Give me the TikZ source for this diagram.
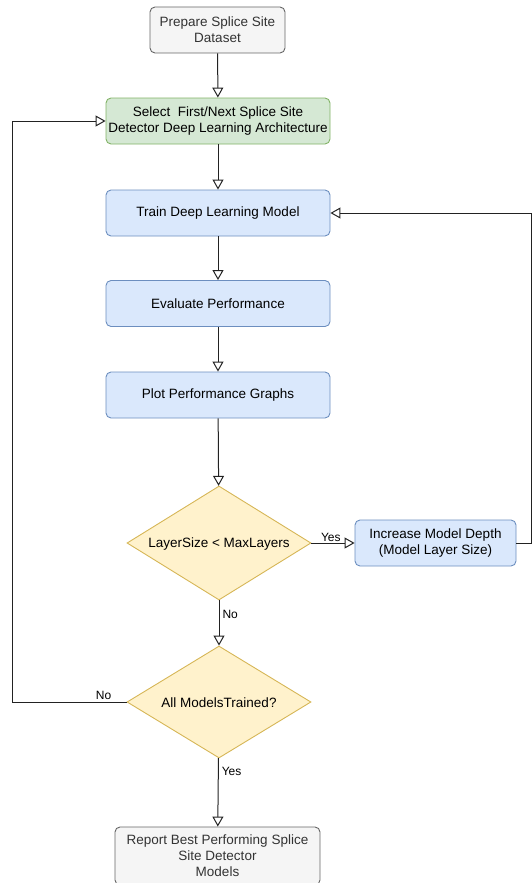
\documentclass[tikz,border=0pt]{standalone}
\usepackage{fontspec}
\setmainfont{Liberation Sans}
\usetikzlibrary{shapes.geometric,arrows.meta}
\definecolor{grayfill}{HTML}{F5F5F5}
\definecolor{graydraw}{HTML}{666666}
\definecolor{greenfill}{HTML}{D5E8D4}
\definecolor{greendraw}{HTML}{82B366}
\definecolor{bluefill}{HTML}{DAE8FC}
\definecolor{bluedraw}{HTML}{6C8EBF}
\definecolor{yelfill}{HTML}{FFF2CC}
\definecolor{yeldraw}{HTML}{D6B656}
\definecolor{linec}{HTML}{222222}
\begin{document}
\begin{tikzpicture}[x=1pt,y=-1pt,
  box/.style={rectangle,rounded corners=5pt,draw,line width=0.9pt,align=center,font=\fontsize{13.5}{16}\selectfont,inner sep=0pt},
  graybox/.style={box,fill=grayfill,draw=graydraw,text=black!80},
  greenbox/.style={box,fill=greenfill,draw=greendraw},
  bluebox/.style={box,fill=bluefill,draw=bluedraw},
  decision/.style={diamond,fill=yelfill,draw=yeldraw,line width=0.9pt,inner sep=0pt},
  dtext/.style={font=\fontsize{13.5}{16}\selectfont,yshift=-1pt},
  conn/.style={draw=linec,line width=1pt,-{Triangle[open,length=10pt,width=11pt]}},
  lbl/.style={font=\fontsize{12}{14}\selectfont,inner sep=1pt}
]
\useasboundingbox (0,0) rectangle (532,883);
\node[graybox,minimum width=135pt,minimum height=46pt] (prep) at (217.5,30) {Prepare Splice Site\\Dataset};
\node[greenbox,minimum width=224pt,minimum height=46pt] (sel) at (218,121) {Select\ \ First/Next Splice Site\\Detector Deep Learning Architecture};
\node[bluebox,minimum width=224pt,minimum height=46pt] (train) at (218,213) {Train Deep Learning Model};
\node[bluebox,minimum width=224pt,minimum height=46pt] (eval) at (218,303.5) {Evaluate Performance};
\node[bluebox,minimum width=224pt,minimum height=46pt] (plot) at (218,395) {Plot Performance Graphs};
\node[decision,minimum width=184pt,minimum height=114pt] (d1) at (219,543) {};
\node[dtext] (d1t) at (d1.center) {LayerSize < MaxLayers};
\node[bluebox,minimum width=161pt,minimum height=46pt] (inc) at (435.5,543) {Increase Model Depth\\(Model Layer Size)};
\node[decision,minimum width=184pt,minimum height=112pt] (d2) at (219,702) {};
\node[dtext] (d2t) at (d2.center) {All ModelsTrained?};
\node[graybox,minimum width=205pt,minimum height=58pt] (rep) at (217.5,856) {Report Best Performing Splice\\Site Detector\\Models};
\coordinate (rr) at (531,543);
\coordinate (rt) at (531,213);
\coordinate (ll) at (12,702);
\coordinate (lt) at (12,121);
\draw[conn] (prep) -- (sel);
\draw[conn] (sel) -- (train);
\draw[conn] (train) -- (eval);
\draw[conn] (eval) -- (plot);
\draw[conn] (plot) -- (d1);
\draw[conn] (d1) -- node[lbl,pos=0.45,above] {Yes} (inc);
\draw[conn] (inc.east) -- (rr) -- (rt) -- (train.east);
\draw[conn] (d1) -- node[lbl,pos=0.3,right,xshift=2pt] {No} (d2);
\draw[conn] (d2.west) -- node[lbl,pos=0.2,above,yshift=1pt] {No} (ll) -- (lt) -- (sel.west);
\draw[conn] (d2) -- node[lbl,pos=0.2,right,xshift=2pt] {Yes} (rep);
\end{tikzpicture}
\end{document}
